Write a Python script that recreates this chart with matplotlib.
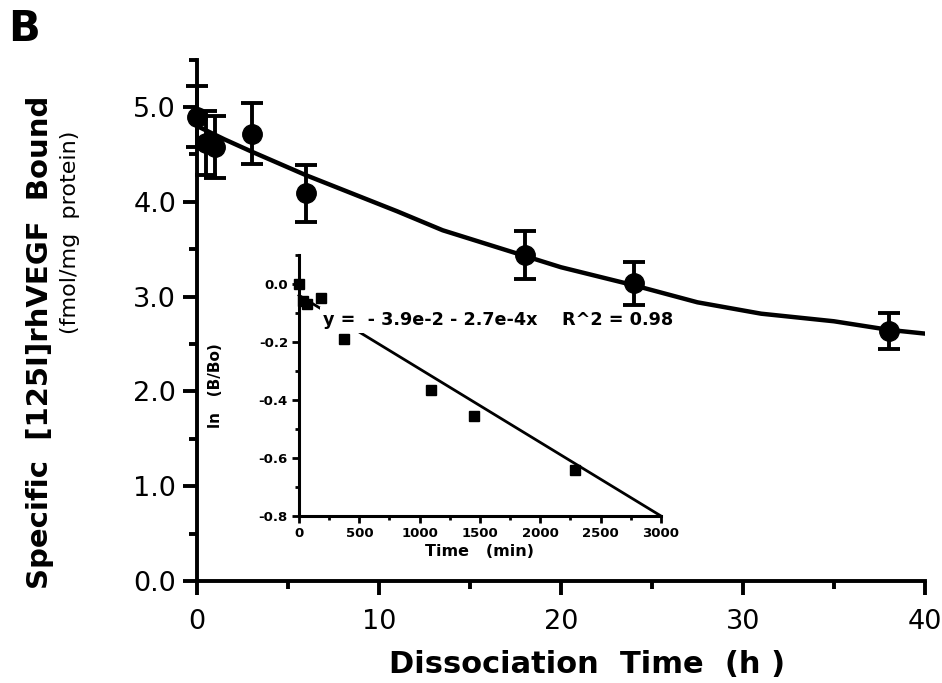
import numpy as np
import matplotlib.pyplot as plt
from matplotlib.ticker import MultipleLocator, FormatStrFormatter

plt.rcParams['font.family'] = ['DejaVu Sans']

# main panel: specific binding vs dissociation time (h)
t_h = [0, 0.5, 1, 3, 6, 18, 24, 38]
bound = [4.90, 4.62, 4.58, 4.72, 4.09, 3.44, 3.14, 2.64]
bound_err = [0.32, 0.34, 0.33, 0.32, 0.30, 0.25, 0.23, 0.19]

# smooth curve through the data
curve_t = [0, 1.5, 3, 6, 8.5, 11, 13.5, 16, 18, 20, 24, 27.5, 31, 35, 38, 40]
curve_b = [4.80, 4.66, 4.53, 4.28, 4.09, 3.90, 3.70, 3.55, 3.43, 3.31, 3.12, 2.94, 2.82, 2.74, 2.65, 2.61]

# inset: ln(B/Bo) vs time (min)
t_min = [0, 35, 65, 185, 375, 1095, 1450, 2290]
ln_b = [0.0, -0.060, -0.068, -0.047, -0.19, -0.365, -0.455, -0.64]
line_t = [0, 3000]
line_y = [-0.039, -0.80]
eq_text = 'y =  - 3.9e-2 - 2.7e-4x    R^2 = 0.98'

fig = plt.figure(figsize=(9.42, 6.83), dpi=100)

ax = fig.add_axes([0.2091, 0.1493, 0.7728, 0.7634])
ax.plot(curve_t, curve_b, color='black', lw=3.2, zorder=2)
ax.errorbar(t_h, bound, yerr=bound_err, fmt='o', color='black', ms=14,
            elinewidth=2.8, capsize=8, capthick=2.8, zorder=3, clip_on=False)
ax.set_xlim(0, 40)
ax.set_ylim(0, 5.5)
for s in ['top', 'right']:
    ax.spines[s].set_visible(False)
for s in ['left', 'bottom']:
    ax.spines[s].set_linewidth(2.8)
ax.xaxis.set_major_locator(MultipleLocator(10))
ax.xaxis.set_minor_locator(MultipleLocator(5))
ax.yaxis.set_major_locator(MultipleLocator(1))
ax.yaxis.set_minor_locator(MultipleLocator(0.5))
ax.yaxis.set_major_formatter(FormatStrFormatter('%.1f'))
ax.set_yticks(np.arange(0, 5.01, 1))
ax.tick_params(axis='both', which='major', direction='out', length=10, width=2.8,
               labelsize=19.5, pad=5)
ax.tick_params(axis='x', which='major', pad=10)
ax.tick_params(axis='both', which='minor', direction='out', length=6, width=2.8)

fig.text(8 / 942, 1 - 8 / 683, 'B', fontsize=30, fontweight='bold', ha='left', va='top')
fig.text(0.042, 0.499, 'Specific  [125I]rhVEGF  Bound', rotation=90, fontsize=21,
         fontweight='bold', ha='center', va='center')
fig.text(0.0743, 0.660, '(fmol/mg  protein)', rotation=90, fontsize=16,
         ha='center', va='center')
fig.text(0.623, 0.027, 'Dissociation  Time  (h )', fontsize=22, fontweight='bold',
         ha='center', va='center')

# inset
ins = fig.add_axes([0.3174, 0.2445, 0.3843, 0.3821])
ins.patch.set_visible(False)
ins.plot(line_t, line_y, color='black', lw=2, zorder=2, clip_on=False)
ins.plot(t_min, ln_b, 's', color='black', ms=7.5, zorder=4, clip_on=False)
ins.text(200, -0.124, eq_text, fontsize=12.7, fontweight='bold', ha='left', va='center',
         zorder=3, clip_on=False,
         bbox=dict(facecolor='white', edgecolor='none', pad=2.5))
ins.set_xlim(0, 3000)
ins.set_ylim(-0.8, 0.1)
for s in ['top', 'right']:
    ins.spines[s].set_visible(False)
for s in ['left', 'bottom']:
    ins.spines[s].set_linewidth(2.2)
ins.xaxis.set_major_locator(MultipleLocator(500))
ins.xaxis.set_minor_locator(MultipleLocator(250))
ins.set_yticks([0.0, -0.2, -0.4, -0.6, -0.8])
ins.yaxis.set_minor_locator(MultipleLocator(0.1))
ins.yaxis.set_major_formatter(FormatStrFormatter('%.1f'))
ins.tick_params(axis='both', which='major', direction='out', length=5, width=2,
                labelsize=9.5, pad=3)
ins.tick_params(axis='both', which='minor', direction='out', length=3, width=2)
for lab in ins.get_xticklabels() + ins.get_yticklabels():
    lab.set_fontweight('bold')
ins.set_xlabel('Time   (min)', fontsize=11.5, fontweight='bold', labelpad=3)
ins.set_ylabel('ln   (B/Bo)', fontsize=11, fontweight='bold', labelpad=26)

fig.savefig('out.png', dpi=100)
